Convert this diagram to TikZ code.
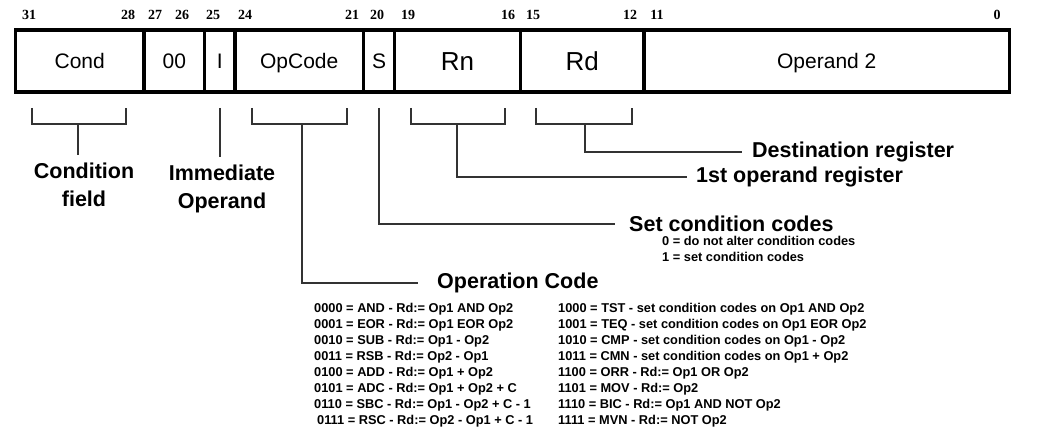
\documentclass[tikz,border=0pt]{standalone}
\usepackage{fontspec}
\setmainfont{Liberation Sans}
\newfontfamily\bitfont{Liberation Serif}
\usetikzlibrary{positioning}

\begin{document}
\begin{tikzpicture}[
x=1pt,y=-1pt,
field/.style={
  draw,
  line width=3.5pt,
  minimum height=62pt,
  inner sep=0pt,
  outer sep=0pt,
  text height=15.1pt,
  text depth=0pt,
  font=\fontsize{21}{25}\selectfont
  },
bigfield/.style={field,text height=18.7pt,font=\fontsize{26}{30}\selectfont},
bitnum/.style={font=\bitfont\bfseries\fontsize{14}{16}\selectfont,inner sep=0pt},
brk/.style={draw=black!80,line width=1.6pt},
headlbl/.style={anchor=west,inner ysep=0pt,font=\bfseries\fontsize{21.5}{24}\selectfont},
sidelbl/.style={anchor=north,align=center,inner xsep=0pt,inner ysep=8pt,font=\bfseries\fontsize{21.5}{28}\selectfont},
tbl/.style={anchor=north west,align=left,inner sep=0pt,font=\bfseries\fontsize{12.8}{15.9}\selectfont}
]
\useasboundingbox (0,0) rectangle (1040,435);
% instruction word
\foreach \Name/\Kind/\From/\To/\Text in {
  cond/field/15.5/144/Cond, zero/field/144/204.5/00, imm/field/204.5/235/I,
  opc/field/235/363.5/OpCode, sbit/field/363.5/394.5/S,
  rn/bigfield/394.5/520.5/Rn, rd/bigfield/520.5/644/Rd,
  optwo/field/644/1009.5/Operand 2}
  \node[\Kind,minimum width=\To-\From] (\Name) at ({(\From+\To)/2},61) {\Text};
% bit numbers
\foreach \X/\Bit in {29/31,128/28,155/27,182/26,213/25,245/24,352/21,
  377/20,408/19,508/16,533/15,630/12,657/11,997/0}
  \node[bitnum] (b\Bit) at (\X,15) {\Bit};

% brackets under the fields
\draw[brk] (32,108) |- (126,124) -- (126,108);
\draw[brk] (252,108) |- (347,124) -- (347,108);
\draw[brk] (411,108) |- (505,124) -- (505,108);
\draw[brk] (536,108) |- (632,124) -- (632,108);
\coordinate (condstem) at (78,124);
\coordinate (immstem) at (220,108);
\coordinate (opcstem) at (302,124);
\coordinate (sstem) at (379,108);
\coordinate (rnstem) at (457,124);
\coordinate (rdstem) at (585,124);

% labels
\node[sidelbl] (condlbl) at (84,155) {Condition\\field};
\node[sidelbl] (immlbl) at (222,157) {Immediate\\Operand};
\node[headlbl,inner xsep=10pt] (rdlbl) at (742,152) {Destination register};
\node[headlbl,inner xsep=9pt] (rnlbl) at (687,177) {1st operand register};
\node[headlbl,inner xsep=14pt] (slbl) at (615,224) {Set condition codes};
\node[headlbl,inner xsep=19pt] (opclbl) at (418,283) {Operation Code};

\draw[brk] (condstem) -- (condstem |- condlbl.north);
\draw[brk] (immstem) -- (immstem |- immlbl.north);
\draw[brk] (rdstem) |- (rdlbl.west);
\draw[brk] (rnstem) |- (rnlbl.west);
\draw[brk] (sstem) |- (slbl.west);
\draw[brk] (opcstem) |- (opclbl.west);

% explanations
\node[tbl] (scodes) at (662,236) {0 = do not alter condition codes\\1 = set condition codes};
\node[tbl] (opsa) at (314,303.5) {0000 = AND - Rd:= Op1 AND Op2\\
0001 = EOR - Rd:= Op1 EOR Op2\\
0010 = SUB - Rd:= Op1 - Op2\\
0011 = RSB - Rd:= Op2 - Op1\\
0100 = ADD - Rd:= Op1 + Op2\\
0101 = ADC - Rd:= Op1 + Op2 + C\\
0110 = SBC - Rd:= Op1 - Op2 + C - 1\\
\hspace*{3pt}0111 = RSC - Rd:= Op2 - Op1 + C - 1};
\node[tbl] (opsb) at (558,303.5) {1000 = TST - set condition codes on Op1 AND Op2\\
1001 = TEQ - set condition codes on Op1 EOR Op2\\
1010 = CMP - set condition codes on Op1 - Op2\\
1011 = CMN - set condition codes on Op1 + Op2\\
1100 = ORR - Rd:= Op1 OR Op2\\
1101 = MOV - Rd:= Op2\\
1110 = BIC - Rd:= Op1 AND NOT Op2\\
1111 = MVN - Rd:= NOT Op2};
\end{tikzpicture}
\end{document}
